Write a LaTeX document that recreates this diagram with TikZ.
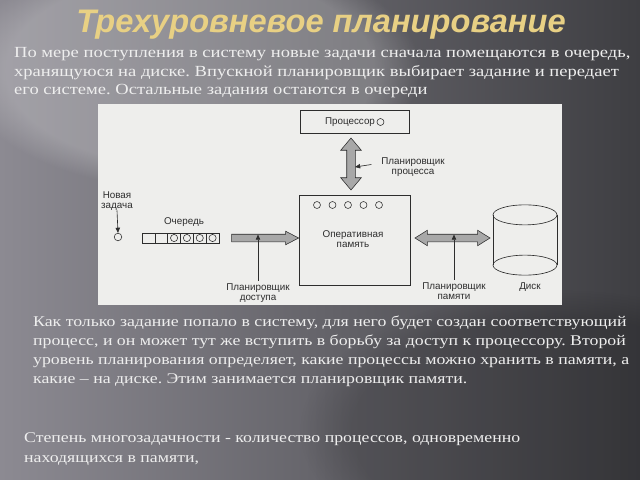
\documentclass[tikz,border=0pt]{standalone}
\usepackage{fontspec}
\setmainfont{Liberation Serif}[FakeStretch=1.2]
\newfontfamily\diagfont{Liberation Sans}
\newfontfamily\titlefont{Liberation Sans}
\usetikzlibrary{positioning, shapes.arrows, arrows.meta, calc, fadings}
\frenchspacing
\definecolor{bgleft}{RGB}{140,138,146}
\definecolor{bgright}{RGB}{62,62,66}
\definecolor{titlegold}{RGB}{232,208,132}
\definecolor{bodytext}{RGB}{238,238,238}
\definecolor{paper}{RGB}{238,238,236}
\definecolor{ink}{RGB}{45,45,45}
\definecolor{fatgray}{RGB}{168,168,168}
\tikzset{
        body/.style={anchor=base west, inner sep=0pt, text=bodytext, font=\fontsize{22}{26}\selectfont},
        smallbody/.style={body, font=\fontsize{21.1}{25}\selectfont},
        lbl/.style={text=ink, font=\diagfont\fontsize{14}{14}\selectfont, align=center, inner sep=0pt},
        box/.style={draw=ink, line width=0.9pt, inner sep=0pt},
        cell/.style={draw=ink, line width=0.8pt, minimum width=6.4mm, minimum height=5mm, inner sep=0pt},
        dot/.style={circle, draw=ink, line width=0.8pt, minimum size=3.6mm, inner sep=0pt},
        fat/.style={draw=ink, fill=fatgray, line width=0.8pt, inner sep=1.75mm},
        pointer/.style={draw=ink, line width=0.9pt, -{Triangle[length=2.6mm,width=2.2mm]}}
          }

\begin{document}
\begin{tikzpicture}[x=0.05cm, y=-0.05cm]
      \useasboundingbox (0,0) rectangle (640,480);
      % background
      \shade[left color=bgleft, right color=bgright] (0,0) rectangle (640,480);
      \fill[white, opacity=0.2, path fading=circle with fuzzy edge 20 percent] (190,70) ellipse [x radius=230, y radius=120];
      \fill[black, opacity=0.15, path fading=circle with fuzzy edge 20 percent] (560,430) ellipse [x radius=260, y radius=140];

      \node[font=\titlefont\bfseries\itshape\fontsize{46.4}{46}\selectfont, text=titlegold, anchor=base] (title) at (321,33) {Трехуровневое планирование};

      \node[body] (p1) at (14,58) {По мере поступления в систему новые задачи сначала помещаются в очередь,};
      \node[body] (p2) at (14,77) {хранящуюся на диске. Впускной планировщик выбирает задание и передает};
      \node[body] (p3) at (14,95) {его системе. Остальные задания остаются в очереди};

      % the figure
      \fill[paper] (98,104) rectangle (562,305);

      \node[box, minimum width=54.5mm, minimum height=11.5mm] (proc) at (354.5,121.5) {};
      \node[lbl] (procname) at (350,122) {Процессор};
      \node[dot, minimum size=3.5mm, right=0.8mm of procname] (procdot) {};

      \node[box, minimum width=55.5mm, minimum height=45mm] (mem) at (354.5,240) {};
      \foreach \i in {0,...,4}
        \node[dot, minimum size=3.5mm] (m\i) at (317+15.5*\i,205) {};
      \node[lbl] (memname) at (353,239) {Оперативная\\память};

      \node[lbl] (newtask) at (117,201) {Новая\\задача};
      \node[dot, minimum size=3.8mm] (newdot) at (118,237) {};
      \draw[pointer] (newtask.south) -- (newdot.north);

      \node[lbl] (queuename) at (184,222) {Очередь};
      \foreach \i in {1,...,6}
        \node[cell] (q\i) at (135.6+12.83*\i,238) {};
      \foreach \i in {3,...,6}
        \node[dot, minimum size=3.6mm] (qd\i) at (q\i) {};

      \node[fat, single arrow, minimum height=33.5mm, single arrow head extend=1.5mm, single arrow tip angle=55]
        (fatq) at (261.5,238) {};
      \node[fat, double arrow, shape border rotate=90, inner sep=2mm, minimum height=26mm,
        double arrow head extend=3mm, double arrow tip angle=80] (fatv) at (351,164) {};
      \node[fat, double arrow, minimum height=37.5mm, double arrow head extend=2mm, double arrow tip angle=64]
        (fatd) at (452.5,238) {};

      \node[lbl] (procsched) at (413,167) {Планировщик\\процесса};
      \node[lbl] (accsched) at (258,293) {Планировщик\\доступа};
      \node[lbl] (memsched) at (454,291) {Планировщик\\памяти};
      \draw[pointer, shorten <=5mm] (procsched.west |- fatv.center) ++(0,-1) -- ([xshift=2mm]fatv.center |- procsched.west);
      \draw[pointer, shorten <=1.5mm] (accsched.north) -- ([yshift=1.75mm]accsched.north |- fatq.center);
      \draw[pointer, shorten <=1.5mm] (memsched.north) -- ([yshift=1.75mm]memsched.north |- fatd.center);

      \node[minimum width=32mm, minimum height=25mm, inner sep=0pt] (disk) at (525,240) {};
      \draw[box] (disk.north) ellipse [x radius=16mm, y radius=5mm];
      \draw[box] (disk.south) ellipse [x radius=16mm, y radius=5mm];
      \draw[box] (disk.north west) -- (disk.south west) (disk.north east) -- (disk.south east);
      \node[lbl] (diskname) at (530,287) {Диск};

      \node[smallbody] (s1) at (33,326) {Как только задание попало в систему, для него будет создан соответствующий};
      \node[smallbody] (s2) at (33,345) {процесс, и он может тут же вступить в борьбу за доступ к процессору. Второй};
      \node[smallbody] (s3) at (33,364) {уровень планирования определяет, какие процессы можно хранить в памяти, а};
      \node[smallbody] (s4) at (33,383) {какие -- на диске. Этим занимается планировщик памяти.};

      \node[smallbody] (t1) at (24,442) {Степень многозадачности - количество процессов, одновременно};
      \node[smallbody] (t2) at (24,462) {находящихся в памяти,};
    \end{tikzpicture}
\end{document}
